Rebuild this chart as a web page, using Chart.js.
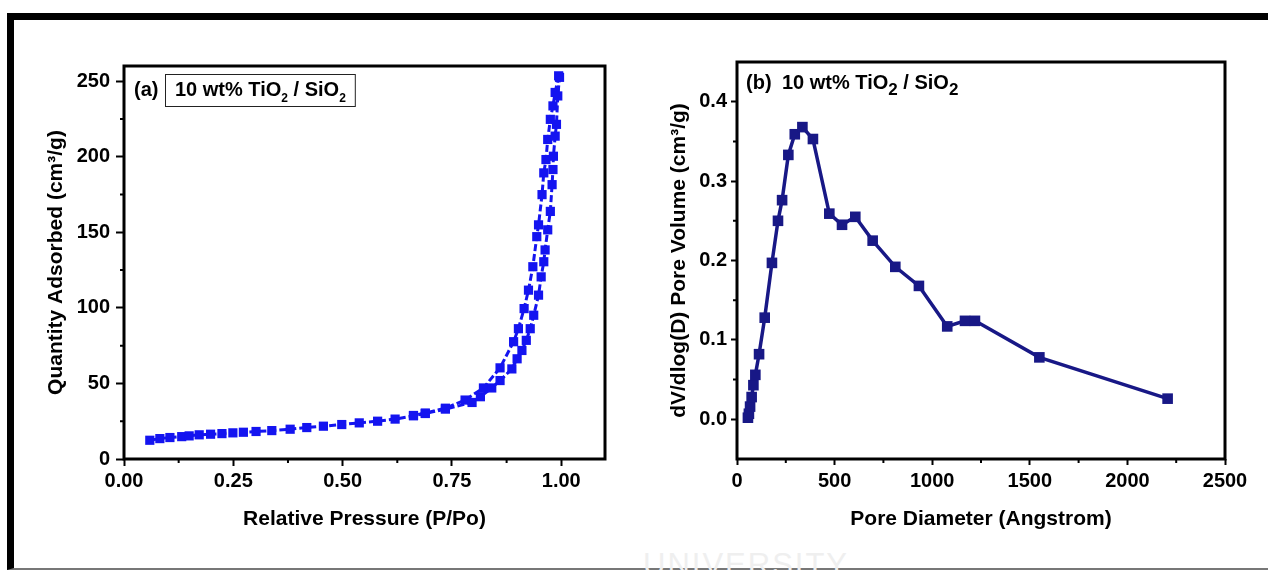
<!DOCTYPE html>
<html>
<head>
<meta charset="utf-8">
<script src="https://cdn.jsdelivr.net/npm/chart.js"></script>
<style>
  body { margin: 0; background: #fff; }
  #wrap { position: relative; width: 1268px; height: 570px; overflow: hidden; background: #fff; }
  #frame { position: absolute; left: 7px; top: 13px; width: 1261px; height: 557px; box-sizing: border-box;
           border-top: 7px solid #000; border-left: 7px solid #000; border-bottom: 2px solid #777; }
  #mark { position: absolute; left: 643px; top: 547px; font: 31px 'Liberation Sans', Arial, sans-serif;
          letter-spacing: 2px; color: #efefef; }
  canvas { position: absolute; top: 0; }
  #ca { left: 0; }
  #cb { left: 634px; }
</style>
</head>
<body>
<div id="wrap">
  <div id="frame"></div>
  <div id="mark">UNIVERSITY</div>
  <canvas id="ca" width="634" height="570"></canvas>
  <canvas id="cb" width="634" height="570"></canvas>
</div>
<script>
// (a) N2 isotherm - adsorption branch
var adsP = [0.059, 0.082, 0.105, 0.132, 0.149, 0.172, 0.198, 0.224, 0.249, 0.273, 0.302, 0.338, 0.38, 0.418,
            0.456, 0.498, 0.538, 0.58, 0.62, 0.662, 0.689, 0.735, 0.796, 0.815, 0.841, 0.86, 0.887, 0.899,
            0.91, 0.92, 0.929, 0.937, 0.948, 0.954, 0.96, 0.963, 0.969, 0.975, 0.979, 0.981, 0.982, 0.986,
            0.989, 0.992, 0.996];
var adsQ = [12.4, 13.5, 14.2, 14.8, 15.3, 16.0, 16.4, 16.8, 17.3, 17.7, 18.2, 18.8, 19.7, 20.8,
            21.7, 22.8, 23.9, 25.0, 26.4, 28.6, 30.1, 33.0, 37.4, 41.2, 47.0, 51.9, 59.6, 66.3,
            71.8, 78.5, 86.2, 95.1, 108.4, 120.5, 130.5, 138.3, 151.6, 163.8, 181.5, 191.5, 200.3, 213.6,
            221.4, 240.2, 252.5];
// desorption branch
var desP = [0.994, 0.986, 0.981, 0.975, 0.969, 0.965, 0.960, 0.956, 0.948, 0.944, 0.935, 0.925, 0.915,
            0.902, 0.891, 0.86, 0.822, 0.78, 0.735, 0.689, 0.662];
var desQ = [253.5, 242.5, 233.6, 224.7, 211.4, 198.1, 189.3, 174.9, 154.9, 147.1, 127.2, 111.7, 99.5,
            86.2, 77.6, 60.3, 47.0, 39.0, 33.6, 30.4, 28.8];

// (b) pore size distribution
var poreD = [56, 61, 67, 75, 84, 94, 113, 142, 179, 210, 231, 263, 296, 335, 389, 473, 538, 606, 695,
             811, 932, 1077, 1168, 1219, 1549, 2206];
var poreV = [0.002, 0.007, 0.016, 0.028, 0.043, 0.056, 0.082, 0.128, 0.197, 0.250, 0.276, 0.333, 0.359,
             0.368, 0.353, 0.259, 0.245, 0.255, 0.225, 0.192, 0.168, 0.117, 0.124, 0.124, 0.078, 0.026];

// tick values
var ticksAx = [0, 0.25, 0.5, 0.75, 1.0];
var ticksAy = [0, 50, 100, 150, 200, 250];
var minorAx = [0.125, 0.375, 0.625, 0.875];
var minorAy = [25, 75, 125, 175, 225];
var ticksBx = [0, 500, 1000, 1500, 2000, 2500];
var ticksBy = [0, 0.1, 0.2, 0.3, 0.4];
var minorBx = [250, 750, 1250, 1750, 2250];
var minorBy = [0.05, 0.15, 0.25, 0.35];

var FONT = "'Liberation Sans', Arial, Helvetica, sans-serif";
Chart.defaults.font.family = FONT;
Chart.defaults.color = '#000';

function pts(xs, ys) {
    return xs.map(function (x, i) { return { x: x, y: ys[i] }; });
}

function axis(min, max, ticks, digits, title, titlePad, size, tickLen, pad) {
    return {
        type: 'linear',
        min: min,
        max: max,
        afterBuildTicks: function (s) { s.ticks = ticks.map(function (v) { return { value: v }; }); },
        afterFit: function (s) { if (s.isHorizontal()) s.height = size; else s.width = size; },
        ticks: {
            font: { size: 20, weight: 'bold' },
            color: '#000',
            padding: pad,
            autoSkip: false,
            maxRotation: 0,
            callback: function (v) { return Number(v).toFixed(digits); }
        },
        grid: { drawOnChartArea: false, drawTicks: true, tickLength: tickLen, tickWidth: 2, tickColor: '#000' },
        border: { display: false },
        title: { display: true, text: title, color: '#000', font: { size: 21, weight: 'bold' }, padding: titlePad }
    };
}

// draws partial text with subscripts, returns end x
function richText(ctx, x, y, parts, size, subSize, drop) {
    parts.forEach(function (p) {
        ctx.font = 'bold ' + (p.sub ? subSize : size) + 'px ' + FONT;
        ctx.fillText(p.t, x, p.sub ? y + drop : y);
        x += ctx.measureText(p.t).width;
    });
    return x;
}

var decor = {
    id: 'decor',
    afterDraw: function (chart, args, o) {
        var ctx = chart.ctx, a = chart.chartArea, xs = chart.scales.x, ys = chart.scales.y;
        ctx.save();
        ctx.strokeStyle = '#000';
        ctx.lineWidth = 2;
        ctx.beginPath();
        o.minorX.forEach(function (v) {
            var p = xs.getPixelForValue(v);
            ctx.moveTo(p, a.bottom); ctx.lineTo(p, a.bottom + 4);
        });
        o.minorY.forEach(function (v) {
            var p = ys.getPixelForValue(v);
            ctx.moveTo(a.left, p); ctx.lineTo(a.left - 4, p);
        });
        ctx.stroke();
        ctx.lineWidth = 3;
        ctx.strokeRect(a.left, a.top, a.right - a.left, a.bottom - a.top);

        ctx.fillStyle = '#000';
        ctx.textBaseline = 'alphabetic';
        ctx.font = 'bold 20px ' + FONT;
        ctx.fillText(o.tag, a.left + o.tagDx, a.top + o.dy);
        var x0 = a.left + o.textDx;
        var x1 = richText(ctx, x0, a.top + o.dy, o.parts, 20, o.subSize, o.drop);
        if (o.box) {
            ctx.lineWidth = 1;
            ctx.strokeStyle = '#222';
            ctx.strokeRect(x0 - 9.5, a.top + 8.5, x1 - x0 + 19, 32);
        }
        ctx.restore();
    }
};

var formula = [{ t: '10 wt% TiO' }, { t: '2', sub: true }, { t: ' / SiO' }, { t: '2', sub: true }];

new Chart(document.getElementById('ca'), {
    type: 'scatter',
    data: {
        datasets: [{
            label: 'Adsorption',
            data: pts(adsP, adsQ),
            showLine: true,
            borderColor: 'rgb(20,20,240)',
            backgroundColor: 'rgb(20,20,240)',
            borderWidth: 3,
            borderDash: [7, 3],
            pointStyle: 'rect',
            pointRadius: 6.5,
            pointBorderWidth: 0
        }, {
            label: 'Desorption',
            data: pts(desP, desQ),
            showLine: true,
            borderColor: 'rgb(20,20,240)',
            backgroundColor: 'rgb(20,20,240)',
            borderWidth: 3,
            borderDash: [7, 3],
            pointStyle: 'rect',
            pointRadius: 6.5,
            pointBorderWidth: 0
        }]
    },
    options: {
        responsive: false,
        animation: false,
        layout: { padding: { left: 0, top: 66, right: 29, bottom: 0 } },
        scales: {
            x: axis(0, 1.1, ticksAx, 2, 'Relative Pressure (P/Po)', { top: 0, bottom: 38 }, 111, 7, 3),
            y: axis(0, 260, ticksAy, 0, 'Quantity Adsorbed (cm\u00b3/g)', { top: 44, bottom: 0 }, 124, 8, 6)
        },
        plugins: {
            legend: { display: false },
            tooltip: { enabled: false },
            decor: { minorX: minorAx, minorY: minorAy, tag: '(a)', tagDx: 10, textDx: 51, dy: 30,
                     parts: formula, subSize: 12, drop: 6, box: true }
        }
    },
    plugins: [decor]
});

new Chart(document.getElementById('cb'), {
    type: 'scatter',
    data: {
        datasets: [{
            label: 'Pore volume',
            data: pts(poreD, poreV),
            showLine: true,
            borderColor: 'rgb(24,24,134)',
            backgroundColor: 'rgb(24,24,134)',
            borderWidth: 3.5,
            pointStyle: 'rect',
            pointRadius: 7.5,
            pointBorderWidth: 0
        }]
    },
    options: {
        responsive: false,
        animation: false,
        layout: { padding: { left: 0, top: 62, right: 43, bottom: 0 } },
        scales: {
            x: axis(0, 2500, ticksBx, 0, 'Pore Diameter (Angstrom)', { top: 0, bottom: 38 }, 111, 6, 4),
            y: axis(-0.05, 0.45, ticksBy, 1, 'dV/dlog(D) Pore Volume (cm\u00b3/g)', { top: 33, bottom: 0 }, 103, 6, 4)
        },
        plugins: {
            legend: { display: false },
            tooltip: { enabled: false },
            decor: { minorX: minorBx, minorY: minorBy, tag: '(b)', tagDx: 9, textDx: 45, dy: 27,
                     parts: formula, subSize: 17, drop: 6, box: false }
        }
    },
    plugins: [decor]
});
</script>
</body>
</html>
